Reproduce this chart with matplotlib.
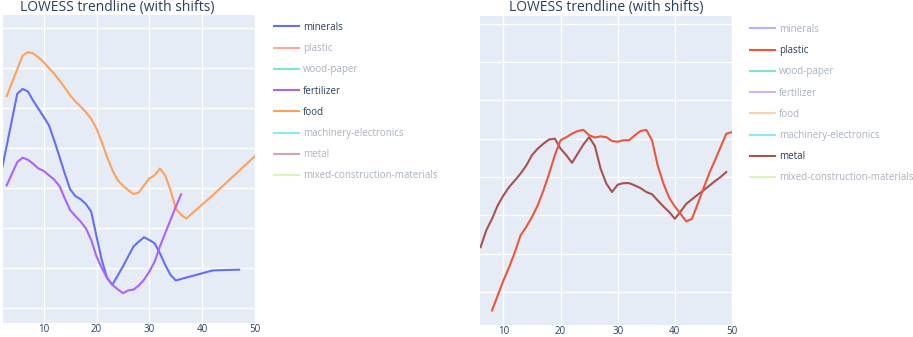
import matplotlib
matplotlib.use("Agg")
import matplotlib.pyplot as plt
from matplotlib.lines import Line2D

plt.rcParams['font.family'] = ['Open Sans', 'DejaVu Sans']

# legend categories and colours
categories = ["minerals", "plastic", "wood-paper", "fertilizer", "food",
              "machinery-electronics", "metal", "mixed-construction-materials"]
colors = ["#636EFA", "#EF553B", "#00CC96", "#AB63FA", "#FFA15A",
          "#19D3F3", "#A8524E", "#B6E880"]

# left panel
minerals_x = [2, 5, 6, 7, 8, 10, 11, 12, 13, 14, 15, 16, 17, 18, 19, 20, 21, 22, 23,
              24, 25, 26, 27, 28, 29, 30, 31, 32, 33, 34, 35, 42, 47]
minerals_y = [3.41, 5.36, 5.48, 5.42, 5.19, 4.78, 4.57, 4.19, 3.78, 3.36, 2.97, 2.80,
              2.72, 2.60, 2.41, 1.79, 1.20, 0.75, 0.58, 0.81, 1.04, 1.29, 1.54, 1.66,
              1.77, 1.70, 1.62, 1.37, 1.08, 0.83, 0.69, 0.94, 0.96]

food_x = [3, 6, 7, 8, 9, 10, 11, 12, 13, 14, 15, 16, 17, 18, 19, 20, 21, 22, 23, 24,
          25, 26, 27, 28, 29, 30, 31, 32, 33, 34, 35, 36, 37, 42, 50]
food_y = [5.30, 6.31, 6.40, 6.37, 6.27, 6.15, 6.00, 5.86, 5.69, 5.51, 5.32, 5.17,
          5.04, 4.90, 4.73, 4.49, 4.15, 3.78, 3.45, 3.20, 3.06, 2.95, 2.85, 2.89,
          3.07, 3.24, 3.32, 3.49, 3.32, 2.95, 2.49, 2.33, 2.24, 2.82, 3.80]

fertilizer_x = list(range(3, 37))
fertilizer_y = [3.07, 3.36, 3.65, 3.76, 3.71, 3.61, 3.49, 3.43, 3.32, 3.21, 3.05,
                2.74, 2.45, 2.30, 2.16, 1.99, 1.70, 1.29, 1.00, 0.75, 0.58, 0.47,
                0.37, 0.44, 0.46, 0.56, 0.71, 0.91, 1.16, 1.54, 1.87, 2.20, 2.53, 2.84]

# right panel
plastic_x = list(range(8, 51))
plastic_y = [-0.48, -0.09, 0.30, 0.65, 1.04, 1.48, 1.70, 1.96, 2.26, 2.65, 3.09,
             3.57, 3.96, 4.04, 4.13, 4.20, 4.23, 4.09, 4.03, 4.06, 4.04, 3.94, 3.92,
             3.96, 3.96, 4.09, 4.20, 4.23, 3.96, 3.30, 2.83, 2.46, 2.23, 2.04, 1.84,
             1.91, 2.30, 2.70, 3.09, 3.43, 3.78, 4.13, 4.17]

metal_x = list(range(6, 50))
metal_y = [1.17, 1.61, 1.91, 2.26, 2.52, 2.74, 2.91, 3.09, 3.30, 3.57, 3.74, 3.87,
           3.98, 4.00, 3.74, 3.57, 3.37, 3.61, 3.85, 4.04, 3.81, 3.22, 2.83, 2.61,
           2.80, 2.84, 2.84, 2.78, 2.71, 2.61, 2.55, 2.39, 2.23, 2.09, 1.91, 2.10,
           2.30, 2.42, 2.54, 2.65, 2.77, 2.89, 3.00, 3.13]

x_ticks = [10, 20, 30, 40, 50]
title = "LOWESS trendline (with shifts)"
text_col = "#2a3f5f"

fig = plt.figure(figsize=(9.13, 3.37), dpi=100)
ax1 = fig.add_axes([3 / 913, 14 / 337, 252 / 913, 308 / 337])
ax2 = fig.add_axes([480 / 913, 12 / 337, 252 / 913, 309 / 337])

ax1.plot(minerals_x, minerals_y, color=colors[0], lw=1.5)
ax1.plot(food_x, food_y, color=colors[4], lw=1.5)
ax1.plot(fertilizer_x, fertilizer_y, color=colors[3], lw=1.5)
ax1.set_xlim(2.3, 50)
ax1.set_ylim(-0.375, 7.33)

ax2.plot(metal_x, metal_y, color=colors[6], lw=1.5)
ax2.plot(plastic_x, plastic_y, color=colors[1], lw=1.5)
ax2.set_xlim(5.9, 50)
ax2.set_ylim(-0.86, 7.2)

for ax in (ax1, ax2):
    ax.set_facecolor("#E5ECF6")
    ax.set_xticks(x_ticks)
    ax.set_yticks(range(0, 8))
    ax.tick_params(axis="y", left=False, labelleft=False)
    ax.tick_params(axis="x", length=0, pad=0.5, labelsize=7, labelcolor=text_col)
    ax.grid(True, color="white", lw=1)
    ax.set_axisbelow(True)
    for s in ax.spines.values():
        s.set_visible(False)

fig.text(117 / 913, 1 - 8 / 337, title, ha="center", va="center", fontsize=10, color=text_col)
fig.text(606 / 913, 1 - 8 / 337, title, ha="center", va="center", fontsize=10, color=text_col)


def add_legend(anchor, active):
    handles = [Line2D([], [], color=c, lw=1.5, alpha=1 if cat in active else 0.5)
               for cat, c in zip(categories, colors)]
    leg = fig.legend(handles, categories, loc="upper left", bbox_to_anchor=anchor,
                     frameon=False, fontsize=7, handlelength=2.6, handletextpad=0.4,
                     labelspacing=1.05, borderaxespad=0)
    for cat, t in zip(categories, leg.get_texts()):
        t.set_color(text_col)
        if cat not in active:
            t.set_alpha(0.4)
    return leg


add_legend((270 / 913, 1 - 18 / 337), ["minerals", "fertilizer", "food"])
add_legend((746 / 913, 1 - 20 / 337), ["plastic", "metal"])

fig.savefig("out.png", dpi=100)
